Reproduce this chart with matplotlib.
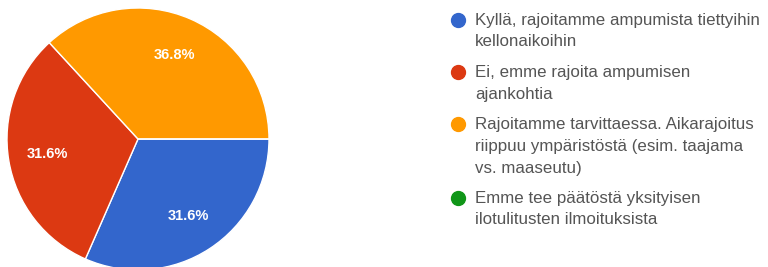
import matplotlib
matplotlib.use("Agg")
import matplotlib.pyplot as plt
from matplotlib.lines import Line2D

labels = [
    "Kyllä, rajoitamme ampumista tiettyihin\nkellonaikoihin",
    "Ei, emme rajoita ampumisen\najankohtia",
    "Rajoitamme tarvittaessa. Aikarajoitus\nriippuu ympäristöstä (esim. taajama\nvs. maaseutu)",
    "Emme tee päätöstä yksityisen\nilotulitusten ilmoituksista",
]
counts = [6, 6, 7, 0]
colors = ["#3366cc", "#dc3912", "#ff9900", "#109618"]

plt.rcParams["font.family"] = ["Liberation Sans", "DejaVu Sans"]

W, H = 768, 267
fig = plt.figure(figsize=(W / 100, H / 100), dpi=100)

# pie: centre ~ (138, 139) px, radius ~ 131 px
cx, cy, r = 138, 139, 131
ax = fig.add_axes([(cx - r) / W, (H - cy - r) / H, 2 * r / W, 2 * r / H])
wedges, _, autotexts = ax.pie(
    counts, colors=colors, startangle=0, counterclock=False,
    autopct=lambda p: f"{p:.1f}%" if p > 0 else "", pctdistance=0.7,
    wedgeprops=dict(edgecolor="white", linewidth=1),
    textprops=dict(color="white", fontsize=10.5, fontweight="bold"),
)
ax.set_xlim(-1, 1)
ax.set_ylim(-1, 1)
ax.set_aspect("auto")
ax.axis("off")

# legend drawn by hand so the wrapping matches
line_h = 22
gap = 8
y = 20
for lab, col in zip(labels, colors):
    fig.add_artist(Line2D([458 / W], [1 - y / H], marker="o", markersize=10,
                          color=col, linestyle="none", transform=fig.transFigure))
    n = lab.count("\n") + 1
    for i, part in enumerate(lab.split("\n")):
        fig.text(475 / W, 1 - (y + i * line_h) / H, part, color="#555555",
                 fontsize=12.2, ha="left", va="center")
    y += n * line_h + gap

fig.savefig("out.png", dpi=100)
